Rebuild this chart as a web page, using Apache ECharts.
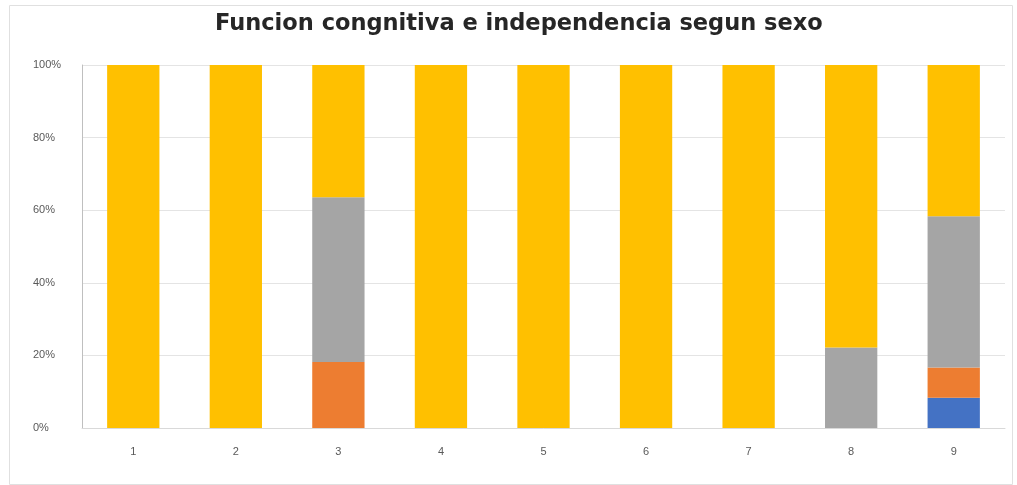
<!DOCTYPE html>
<html>
<head>
<meta charset="utf-8">
<script src="https://cdn.jsdelivr.net/npm/echarts@6/dist/echarts.min.js"></script>
<style>
html, body { margin: 0; padding: 0; background: #fff; }
#main { width: 1017px; height: 485px; }
</style>
</head>
<body>
<div id="main"></div>
<script>
// categorias y porcentajes (apilados al 100%)
var categorias = ['1', '2', '3', '4', '5', '6', '7', '8', '9'];
var serieAzul = [0, 0, 0, 0, 0, 0, 0, 0, 8.3];
var serieNaranja = [0, 0, 18.2, 0, 0, 0, 0, 0, 8.4];
var serieGris = [0, 0, 45.4, 0, 0, 0, 0, 22.2, 41.6];
var serieAmarilla = [100, 100, 36.4, 100, 100, 100, 100, 77.8, 41.7];
var colores = ['#4472C4', '#ED7D31', '#A5A5A5', '#FFC000'];

var myChart = echarts.init(document.getElementById('main'));

function serie(nombre, datos, color) {
	return {
		name: nombre,
		type: 'bar',
		stack: 'total',
		barWidth: '51%',
		itemStyle: {color: color},
		data: datos
	};
}

var option = {
	animation: false,
	// marco del grafico
	graphic: [{
		type: 'rect', left: 7, top: 3, silent: true,
		shape: {width: 1003, height: 479},
		style: {fill: 'none', stroke: '#e0e0e0', lineWidth: 1}
	}],
	title: {
		text: 'Funcion congnitiva e independencia segun sexo',
		left: 210, top: 8,
		textStyle: {fontFamily: 'DejaVu Sans', fontSize: 22.5, fontWeight: 'bold', color: '#262626'}
	},
	grid: {left: 82, right: 12, top: 65, bottom: 57},
	xAxis: {
		type: 'category',
		data: categorias,
		axisLine: {show: true, lineStyle: {color: '#d9d9d9'}},
		axisTick: {show: false},
		axisLabel: {color: '#595959', fontSize: 11, margin: 18}
	},
	yAxis: {
		type: 'value',
		min: 0, max: 100, interval: 20,
		axisLine: {show: true, lineStyle: {color: '#bfbfbf'}},
		axisTick: {show: false},
		splitLine: {lineStyle: {color: '#e4e4e4'}},
		axisLabel: {color: '#595959', fontSize: 11, margin: 49, align: 'left', formatter: '{value}%'}
	},
	series: [
		serie('A', serieAzul, colores[0]),
		serie('B', serieNaranja, colores[1]),
		serie('C', serieGris, colores[2]),
		serie('D', serieAmarilla, colores[3])
	]
};
myChart.setOption(option);
</script>
</body>
</html>
